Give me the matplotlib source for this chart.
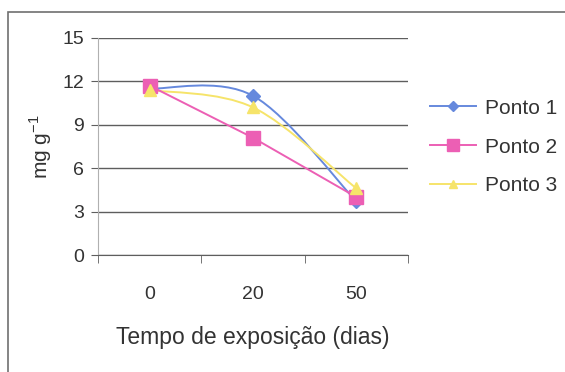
import matplotlib
matplotlib.use("Agg")
import matplotlib.pyplot as plt
from matplotlib.path import Path
from matplotlib.patches import PathPatch, Rectangle
from matplotlib.lines import Line2D

plt.rcParams['font.family'] = ['Liberation Sans', 'DejaVu Sans']

# exposure time categories (days)
dias = ['0', '20', '50']
ponto1 = [11.5, 11.0, 3.7]
ponto2 = [11.7, 8.1, 4.0]
ponto3 = [11.4, 10.2, 4.6]
yticks = [0, 3, 6, 9, 12, 15]

c_blue = '#6689dd'
c_pink = '#ec5fb4'
c_yellow = '#f6e46a'
grid_c = '#5e5e5e'
txt_c = '#333333'


def smooth_path(xs, ys):
    # Catmull-Rom style bezier, like a spreadsheet "smoothed line"
    pts = list(zip(xs, ys))
    verts = [pts[0]]
    codes = [Path.MOVETO]
    n = len(pts)
    for i in range(n - 1):
        p0 = pts[max(i - 1, 0)]
        p1 = pts[i]
        p2 = pts[i + 1]
        p3 = pts[min(i + 2, n - 1)]
        c1 = (p1[0] + (p2[0] - p0[0]) / 6, p1[1] + (p2[1] - p0[1]) / 6)
        c2 = (p2[0] - (p3[0] - p1[0]) / 6, p2[1] - (p3[1] - p1[1]) / 6)
        verts += [c1, c2, p2]
        codes += [Path.CURVE4] * 3
    return Path(verts, codes)


fig = plt.figure(figsize=(5.65, 3.72), dpi=100)
ax = fig.add_axes([0.1735, 0.3145, 0.5487, 0.5835])

# outer chart frame
fig.patches.append(Rectangle((8 / 565, -0.1), 1.2, 1 - 12 / 372 + 0.1,
                             transform=fig.transFigure, fill=False,
                             edgecolor='#707070', lw=1.2))

x = list(range(len(dias)))
ax.add_patch(PathPatch(smooth_path(x, ponto1), fill=False, edgecolor=c_blue, lw=1.4, zorder=3))
ax.add_patch(PathPatch(smooth_path(x, ponto3), fill=False, edgecolor=c_yellow, lw=1.4, zorder=3))
ax.plot(x, ponto2, color=c_pink, lw=1.4, zorder=3)

ax.plot(x, ponto1, ls='none', marker='D', ms=7, color=c_blue, zorder=4)
ax.plot(x, ponto2, ls='none', marker='s', ms=10, color=c_pink, zorder=4)
ax.plot(x, ponto3, ls='none', marker='^', ms=9, color=c_yellow, zorder=4)

ax.set_xlim(-0.5, 2.5)
ax.set_ylim(0, 15)
ax.set_yticks(yticks)
ax.set_xticks(x)
ax.set_xticklabels(dias)
ax.set_xticks([-0.5, 0.5, 1.5, 2.5], minor=True)
ax.tick_params(axis='x', which='major', length=0, pad=22, labelsize=14, labelcolor=txt_c)
ax.tick_params(axis='x', which='minor', length=6, direction='out', color=grid_c)
ax.tick_params(axis='y', length=5, direction='out', color=grid_c, labelsize=14,
               labelcolor=txt_c, pad=5)
ax.yaxis.grid(True, color=grid_c, lw=1.0)
ax.set_axisbelow(True)
for s in ['top', 'right']:
    ax.spines[s].set_visible(False)
ax.spines['left'].set_color('#b0b0b0')
ax.spines['bottom'].set_color(grid_c)

ax.set_ylabel('mg g$^{\\mathregular{-1}}$', fontsize=15, color=txt_c, labelpad=6)
ax.set_xlabel('Tempo de exposição (dias)', fontsize=16.5, color=txt_c, labelpad=17)

handles = [
    Line2D([], [], color=c_blue, marker='D', ms=5, lw=1.4),
    Line2D([], [], color=c_pink, marker='s', ms=8, lw=1.4),
    Line2D([], [], color=c_yellow, marker='^', ms=6, lw=1.4),
]
leg = fig.legend(handles, ['Ponto 1', 'Ponto 2', 'Ponto 3'], loc='center left',
                 bbox_to_anchor=(430 / 565, 1 - 147 / 372), frameon=False, fontsize=15,
                 labelspacing=0.95, handlelength=2.2, handletextpad=0.45,
                 borderpad=0, borderaxespad=0, labelcolor=txt_c)

fig.savefig('out.png', dpi=100)
